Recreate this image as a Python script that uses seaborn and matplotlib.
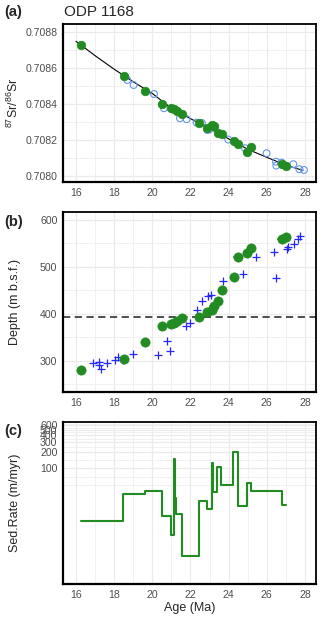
import numpy as np
import pandas as pd
import matplotlib
matplotlib.use("Agg")
import matplotlib.pyplot as plt
from matplotlib.ticker import FixedLocator, NullFormatter, FormatStrFormatter
import seaborn as sns

# ---------------- data ----------------
# age-model tie points (green)
tie_age = [16.25, 18.5, 19.6, 20.5, 20.98, 21.12, 21.28, 21.55, 22.45, 22.86,
           23.14, 23.23, 23.45, 23.65, 24.27, 24.47, 24.98, 25.16, 26.82, 26.99]
tie_depth = [280, 304, 339, 373, 378, 381, 385, 390, 393, 404,
             409, 416, 427, 451, 479, 520, 529, 540, 559, 563]
tie_sr = [0.708730, 0.708557, 0.708476, 0.708400, 0.708378, 0.708372, 0.708365,
          0.708344, 0.708294, 0.708268, 0.708287, 0.708281, 0.708239, 0.708236,
          0.708198, 0.708180, 0.708135, 0.708160, 0.708066, 0.708059]
tie_err = [0.05, 0.05, 0.05, 0.15, 0.05, 0.05, 0.1, 0.05, 0.05, 0.05,
           0.05, 0.25, 0.1, 0.05, 0.15, 0.25, 0.2, 0.2, 0.3, 0.2]

# Sr measurements (blue open circles)
meas_age = [18.69, 19.02, 20.09, 20.61, 21.45, 21.80, 22.32, 22.60, 22.88, 23.00,
            23.98, 24.86, 25.99, 26.48, 26.50, 26.78, 27.39, 27.71, 27.95]
meas_sr = [0.708535, 0.708507, 0.708457, 0.708378, 0.708322, 0.708317, 0.708298,
           0.708296, 0.708257, 0.708260, 0.708204, 0.708156, 0.708128, 0.708081,
           0.708059, 0.708076, 0.708067, 0.708039, 0.708035]

# reference Sr curve (black line)
curve_age = [16.0, 17.0, 18.0, 19.0, 20.0, 21.0, 22.0, 23.0, 24.0, 25.0, 26.0, 27.0, 27.9]
curve_sr = [0.708750, 0.708670, 0.708595, 0.708525, 0.708460, 0.708378, 0.708320,
            0.708265, 0.708208, 0.708150, 0.708105, 0.708062, 0.708032]

# depth of measured samples (blue crosses)
samp_age = [16.91, 17.20, 17.22, 17.30, 17.64, 18.04, 18.20, 18.48, 19.00, 20.31,
            20.75, 20.93, 21.77, 21.97, 22.32, 22.59, 22.94, 23.06, 23.69, 24.77,
            25.43, 26.37, 26.48, 27.04, 27.13, 27.43, 27.62, 27.74]
samp_depth = [294, 297, 290, 283, 294, 301, 308, 301, 314, 313,
              341, 320, 374, 380, 409, 428, 438, 440, 470, 485,
              520, 531, 476, 537, 542, 548, 560, 566]

hiatus_depth = 393

# sedimentation rate (step function)
rate_age = [16.25, 18.48, 19.62, 20.49, 20.96, 21.14, 21.19, 21.24, 21.54, 22.45,
            22.85, 23.14, 23.20, 23.37, 23.62, 24.22, 24.48, 24.96, 25.16, 26.81, 26.99]
rate_val = [11.2, 34.7, 38.3, 13.7, 6.3, 145, 28.6, 15.1, 2.55, 25.6,
            18.3, 126, 37.7, 104, 49.8, 200, 20.7, 54.8, 38.3, 21.6, 21.6]

# ---------------- style ----------------
sns.set_style("white")
plt.rcParams['font.family'] = ['Liberation Sans', 'DejaVu Sans']
plt.rcParams['mathtext.fontset'] = 'custom'
plt.rcParams['mathtext.rm'] = 'Liberation Sans'

GREEN = '#228B22'
TICKC = '#4D4D4D'
GRIDC = '#EBEBEB'

fig = plt.figure(figsize=(3.2, 6.22), dpi=100)
W, H = 320, 622

def add_ax(top, bottom, left=63, right=316):
    return fig.add_axes([left / W, 1 - bottom / H, (right - left) / W, (bottom - top) / H])

axa = add_ax(24, 182)
axb = add_ax(212, 392)
axc = add_ax(422, 584)

def style(ax):
    ax.set_facecolor('white')
    ax.set_xlim(15.32, 28.58)
    ax.xaxis.set_major_locator(FixedLocator(list(range(16, 29, 2))))
    ax.xaxis.set_minor_locator(FixedLocator(list(range(15, 29, 2))))
    ax.grid(True, which='major', color=GRIDC, linewidth=0.9, zorder=0)
    ax.grid(True, which='minor', color=GRIDC, linewidth=0.5, zorder=0)
    ax.set_axisbelow(True)
    for s in ax.spines.values():
        s.set_color('black')
        s.set_linewidth(1.3)
    ax.spines['left'].set_linewidth(1.6)
    ax.spines['bottom'].set_linewidth(1.6)
    ax.tick_params(which='major', length=2.5, width=0.8, color='#333333',
                   labelcolor=TICKC, labelsize=7.6, pad=1.5)
    ax.tick_params(which='minor', length=0)
    ax.yaxis.set_label_coords(-0.165, 0.5)

# ---------------- panel (a) ----------------
style(axa)
sns.lineplot(x=curve_age, y=curve_sr, ax=axa, color='black', linewidth=0.8, sort=False, estimator=None)
sns.scatterplot(x=meas_age, y=meas_sr, ax=axa, marker='o', facecolor='none',
                edgecolor='#6495ED', linewidth=0.8, s=24, zorder=3)
axa.errorbar(tie_age, tie_sr, xerr=tie_err, fmt='none', ecolor=GREEN, alpha=0.6,
             elinewidth=1.5, capsize=0, zorder=4)
sns.scatterplot(x=tie_age, y=tie_sr, ax=axa, color=GREEN, edgecolor=GREEN, s=38, zorder=5)
axa.set_ylim(0.707968, 0.708846)
axa.yaxis.set_major_locator(FixedLocator([0.7080, 0.7082, 0.7084, 0.7086, 0.7088]))
axa.yaxis.set_minor_locator(FixedLocator([0.7081, 0.7083, 0.7085, 0.7087]))
axa.yaxis.set_major_formatter(FormatStrFormatter('%.4f'))
axa.set_ylabel('$^{87}$Sr/$^{86}$Sr', fontsize=9)
axa.set_xlabel('')

# ---------------- panel (b) ----------------
style(axb)
sns.scatterplot(x=samp_age, y=samp_depth, ax=axb, marker='+', color='#2626FF',
                s=32, linewidth=0.9, zorder=3)
axb.errorbar(tie_age, tie_depth, xerr=tie_err, fmt='none', ecolor=GREEN, alpha=0.6,
             elinewidth=1.5, capsize=0, zorder=4)
sns.scatterplot(x=tie_age, y=tie_depth, ax=axb, color=GREEN, edgecolor=GREEN, s=44, zorder=5)
axb.axhline(hiatus_depth, color='#404040', linestyle=(0, (4, 2.5)), linewidth=1.3, zorder=2)
axb.set_ylim(233, 617)
axb.yaxis.set_major_locator(FixedLocator([300, 400, 500, 600]))
axb.yaxis.set_minor_locator(FixedLocator([250, 350, 450, 550]))
axb.set_ylabel('Depth (m b.s.f.)', fontsize=9)
axb.set_xlabel('')

# ---------------- panel (c) ----------------
style(axc)
axc.set_yscale('log')
sns.lineplot(x=rate_age, y=rate_val, ax=axc, color=GREEN, linewidth=1.5,
             drawstyle='steps-post', sort=False, estimator=None)
axc.set_ylim(0.8, 690)
axc.yaxis.set_major_locator(FixedLocator([100, 200, 300, 400, 500, 600]))
axc.yaxis.set_major_formatter(FormatStrFormatter('%d'))
axc.yaxis.set_minor_locator(FixedLocator([50, 70.7, 141, 245, 346, 447, 548, 648]))
axc.yaxis.set_minor_formatter(NullFormatter())
axc.tick_params(which='minor', length=0)
axc.set_ylabel('Sed.Rate (m/myr)', fontsize=9)
axc.set_xlabel('Age (Ma)', fontsize=9, labelpad=2)

# ---------------- texts ----------------
fig.text(64 / W, 1 - 16 / H, 'ODP 1168', fontsize=11, ha='left', va='baseline')
fig.text(4 / W, 1 - 16 / H, '(a)', fontsize=10.5, weight='bold', ha='left', va='baseline')
fig.text(4 / W, 1 - 226 / H, '(b)', fontsize=10.5, weight='bold', ha='left', va='baseline')
fig.text(4 / W, 1 - 435 / H, '(c)', fontsize=10.5, weight='bold', ha='left', va='baseline')

fig.savefig('out.png', dpi=100, facecolor='white')
